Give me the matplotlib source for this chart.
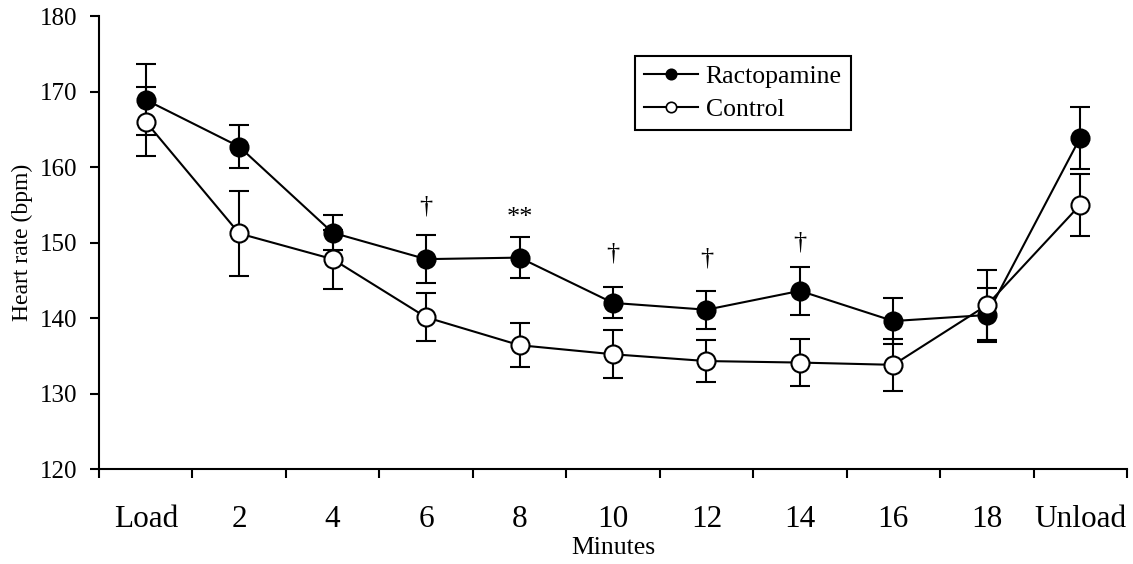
import matplotlib
matplotlib.use("Agg")
import matplotlib.pyplot as plt
from matplotlib.lines import Line2D
from matplotlib.ticker import FixedLocator, NullFormatter

plt.rcParams['font.family'] = ['Liberation Serif', 'DejaVu Serif']

categories = ["Load", "2", "4", "6", "8", "10", "12", "14", "16", "18", "Unload"]
ractopamine = [168.9, 162.7, 151.3, 147.8, 148.0, 142.0, 141.1, 143.6, 139.6, 140.4, 163.9]
ractopamine_err = [4.7, 2.8, 2.3, 3.15, 2.75, 2.05, 2.5, 3.2, 3.0, 3.6, 4.1]
control = [166.0, 151.2, 147.8, 140.1, 136.4, 135.2, 134.3, 134.1, 133.8, 141.7, 155.0]
control_err = [4.6, 5.65, 3.9, 3.2, 2.9, 3.2, 2.8, 3.1, 3.4, 4.6, 4.1]
marks = {3: "\u2020", 4: "**", 5: "\u2020", 6: "\u2020", 7: "\u2020"}
mark_y = {3: 154.8, 4: 153.2, 5: 148.6, 6: 147.9, 7: 150.0}

fig = plt.figure(figsize=(11.33, 5.64), dpi=100)
ax = fig.add_axes([0.0874, 0.1684, 0.9073, 0.8032])

x = list(range(len(categories)))
common = dict(color='black', lw=1.5, marker='o', markersize=13, markeredgecolor='black',
              markeredgewidth=1.5, capsize=7, capthick=1.5, elinewidth=1.5)
ax.errorbar(x, ractopamine, yerr=ractopamine_err, markerfacecolor='black', zorder=3, **common)
ax.errorbar(x, control, yerr=control_err, markerfacecolor='white', zorder=4, **common)

for i, s in marks.items():
    ax.text(i, mark_y[i], s, ha='center', va='center', fontsize=19)

ax.set_xlim(-0.5, len(categories) - 0.5)
ax.set_ylim(120, 180)
ax.set_yticks(range(120, 181, 10))
ax.tick_params(axis='y', labelsize=18, direction='out', length=6.5, width=1.5, pad=9)

ax.xaxis.set_major_locator(FixedLocator(x))
ax.set_xticklabels(categories, fontsize=22.5)
ax.xaxis.set_minor_locator(FixedLocator([i - 0.5 for i in range(len(categories) + 1)]))
ax.xaxis.set_minor_formatter(NullFormatter())
ax.tick_params(axis='x', which='major', length=0, pad=26)
ax.tick_params(axis='x', which='minor', length=6.5, width=1.5, direction='out')

for sp in ['top', 'right']:
    ax.spines[sp].set_visible(False)
for sp in ['left', 'bottom']:
    ax.spines[sp].set_linewidth(1.5)

ax.set_ylabel('Heart rate (bpm)', fontsize=17, labelpad=5)
ax.set_xlabel('Minutes', fontsize=18.5, labelpad=2)

handles = [
    Line2D([], [], color='black', lw=1.5, marker='o', markersize=7.5,
           markerfacecolor='black', markeredgecolor='black', markeredgewidth=1.2),
    Line2D([], [], color='black', lw=1.5, marker='o', markersize=7.5,
           markerfacecolor='white', markeredgecolor='black', markeredgewidth=1.2),
]
leg = ax.legend(handles, ['Ractopamine', 'Control'], loc='upper left',
                bbox_to_anchor=(0.5214, 0.9117), fontsize=18.5,
                frameon=True, fancybox=False, edgecolor='black', framealpha=1,
                handlelength=2.1, borderpad=0.35, labelspacing=0.4, handletextpad=0.3,
                borderaxespad=0)
leg.get_frame().set_linewidth(1.5)

fig.savefig('out.png', dpi=100)
